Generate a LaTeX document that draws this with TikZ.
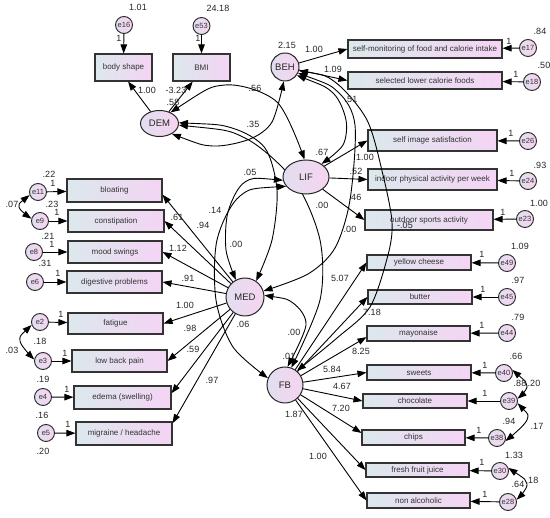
\documentclass[tikz,border=0pt]{standalone}
\usepackage{fontspec}
\setmainfont{Liberation Sans}
\usetikzlibrary{arrows.meta,shapes.geometric}
\definecolor{boxL}{RGB}{220,232,236}
\definecolor{boxR}{RGB}{244,212,244}
\definecolor{latL}{RGB}{226,222,240}
\definecolor{latR}{RGB}{246,212,240}
\pgfdeclarelayer{bg}
\pgfsetlayers{bg,main}
\begin{document}
\begin{tikzpicture}[x=1pt,y=-1pt,
  >={Triangle[length=9pt,width=6.5pt]},
  con/.style={line width=0.9pt,black},
  obs/.style={draw=black!80,line width=1.1pt,left color=boxL,right color=boxR,inner sep=0pt,font=\fontsize{8}{9}\selectfont,text=black!80},
  err/.style={circle,draw=black!85,line width=0.9pt,left color=latL,right color=latR,minimum size=17pt,inner sep=0pt,font=\fontsize{7.5}{8}\selectfont,text=black!80},
  lat/.style={draw=black!85,line width=1pt,left color=latL,right color=latR,inner sep=0pt,font=\fontsize{9.5}{10}\selectfont,text=black!85},
  lbl/.style={inner sep=0pt,font=\fontsize{9}{10}\selectfont,text=black!85},
]
\begin{pgfonlayer}{bg}\fill[white] (0,0) rectangle (550,518);\end{pgfonlayer}
\useasboundingbox (0,0) rectangle (550,518);

% observed boxes
\node[obs,minimum width=57pt,minimum height=27pt] (bodyshape) at (123.5,67.5) {body shape};
\node[obs,minimum width=57pt,minimum height=27pt] (BMI) at (201.5,67.5) {BMI};
\node[obs,minimum width=154pt,minimum height=18pt] (selfmon) at (425,49) {self-monitoring of food and calorie intake};
\node[obs,minimum width=154pt,minimum height=17pt] (sellow) at (425,80.5) {selected lower calorie foods};
\node[obs,minimum width=129pt,minimum height=21pt] (selfimg) at (432.5,140.5) {self image satisfaction};
\node[obs,minimum width=129pt,minimum height=21pt] (indoor) at (432.5,179.5) {indoor physical activity per week};
\node[obs,minimum width=128pt,minimum height=20pt] (outdoor) at (429,220) {outdoor sports activity};
\node[obs,minimum width=95pt,minimum height=23pt] (bloating) at (114.5,190.5) {bloating};
\node[obs,minimum width=96pt,minimum height=22pt] (constip) at (116,221) {constipation};
\node[obs,minimum width=94pt,minimum height=22pt] (mood) at (115,252) {mood swings};
\node[obs,minimum width=95pt,minimum height=22pt] (digest) at (114.5,282) {digestive problems};
\node[obs,minimum width=95pt,minimum height=21pt] (fatigue) at (115.5,323.5) {fatigue};
\node[obs,minimum width=95pt,minimum height=22pt] (lowback) at (119.5,361) {low back pain};
\node[obs,minimum width=97pt,minimum height=23pt] (edema) at (122.5,397.5) {edema (swelling)};
\node[obs,minimum width=96pt,minimum height=23pt] (migraine) at (124,433.5) {migraine / headache};
\node[obs,minimum width=104pt,minimum height=15pt] (ycheese) at (419,262.5) {yellow cheese};
\node[obs,minimum width=104pt,minimum height=14pt] (butter) at (420,297) {butter};
\node[obs,minimum width=103pt,minimum height=15pt] (mayo) at (418.5,333.5) {mayonaise};
\node[obs,minimum width=104pt,minimum height=15pt] (sweets) at (419,372.5) {sweets};
\node[obs,minimum width=104pt,minimum height=14pt] (choc) at (415,401) {chocolate};
\node[obs,minimum width=103pt,minimum height=15pt] (chips) at (413.5,437.5) {chips};
\node[obs,minimum width=103pt,minimum height=14pt] (juice) at (417.5,470) {fresh fruit juice};
\node[obs,minimum width=103pt,minimum height=15pt] (nonalc) at (418.5,500.5) {non alcoholic};

% error terms
\node[err] (e16) at (124,25) {e16};
\node[err] (e53) at (201.5,26) {e53};
\node[err] (e17) at (528,48) {e17};
\node[err] (e18) at (532,82) {e18};
\node[err] (e26) at (528,141) {e26};
\node[err] (e24) at (528,181) {e24};
\node[err] (e23) at (525,219) {e23};
\node[err] (e11) at (38,192) {e11};
\node[err] (e9) at (40,221) {e9};
\node[err] (e8) at (34,252) {e8};
\node[err] (e6) at (35,282) {e6};
\node[err] (e2) at (40,322) {e2};
\node[err] (e3) at (43,361) {e3};
\node[err] (e4) at (43,397) {e4};
\node[err] (e5) at (46,433) {e5};
\node[err] (e49) at (507,263) {e49};
\node[err] (e45) at (507,297) {e45};
\node[err] (e44) at (507,333) {e44};
\node[err] (e40) at (504,373) {e40};
\node[err] (e39) at (509,401) {e39};
\node[err] (e38) at (497,438) {e38};
\node[err] (e30) at (500,471) {e30};
\node[err] (e28) at (508,502) {e28};

% latent variables
\node[lat,ellipse,minimum width=38pt,minimum height=26pt] (DEM) at (159.5,123.5) {DEM};
\node[lat,circle,minimum size=28pt] (BEH) at (285,67) {BEH};
\node[lat,ellipse,minimum width=46pt,minimum height=34pt] (LIF) at (306,177) {LIF};
\node[lat,circle,minimum size=38pt] (MED) at (245,297) {MED};
\node[lat,circle,minimum size=36pt] (FB) at (285,385) {FB};

% error arrows
\foreach \e/\b in {e16/bodyshape,e53/BMI,e17/selfmon,e18/sellow,e26/selfimg,e24/indoor,e23/outdoor,
  e11/bloating,e9/constip,e8/mood,e6/digest,e2/fatigue,e3/lowback,e4/edema,e5/migraine,
  e49/ycheese,e45/butter,e44/mayo,e40/sweets,e39/choc,e38/chips,e30/juice,e28/nonalc}
  \draw[con,->] (\e) -- (\b);

% loadings
\draw[con,->] (DEM) -- (bodyshape.-72);
\draw[con,->] (DEM) -- (BMI.-122);
\draw[con,->] (BEH) -- (selfmon.west);
\draw[con,->] (BEH) -- (sellow.west);
\draw[con,->] (LIF) -- (selfimg.west);
\draw[con,->] (LIF) -- (indoor.west);
\draw[con,->] (LIF) -- (outdoor.west);
\draw[con,->] (MED) -- (bloating.-5);
\draw[con,->] (MED) -- (constip.east);
\draw[con,->] (MED) -- (mood.east);
\draw[con,->] (MED) -- (digest.east);
\draw[con,->] (MED) -- (fatigue.east);
\draw[con,->] (MED) -- (lowback.east);
\draw[con,->] (MED) -- (edema.5);
\draw[con,->] (MED) -- (migraine.12);
\draw[con,->] (FB) -- (ycheese.west);
\draw[con,->] (FB) -- (butter.west);
\draw[con,->] (FB) -- (mayo.184);
\draw[con,->] (FB) -- (sweets.west);
\draw[con,->] (FB) -- (choc.west);
\draw[con,->] (FB) -- (chips.175);
\draw[con,->] (FB) -- (juice.west);
\draw[con,->] (FB) -- (nonalc.west);

% covariances among latents
\draw[con,<->] plot[smooth] coordinates {(DEM.45) (225,85) (277,102) (LIF.95)};
\draw[con,<->] plot[smooth] coordinates {(DEM.-40) (213,146) (250,139) (272,122) (BEH.-95)};
\draw[con,<->] plot[smooth] coordinates {(DEM.2) (232,128) (265,148) (277,190) (272,240) (MED.55)};
\begin{pgfonlayer}{bg}
\draw[con,<->] plot[smooth] coordinates {(DEM.-5) (245,138) (295,182) (320,240) (320,300) (FB.70)};
\end{pgfonlayer}
\draw[con,<->] plot[smooth] coordinates {(BEH.-35) (333,93) (346,120) (343,145) (LIF.40)};
\draw[con,<->] plot[smooth] coordinates {(BEH.-25) (338,92) (355,125) (350,200) (335,248) (308,274) (MED.18)};
\draw[con,<->] plot[smooth] coordinates {(BEH.-15) (335,82) (367,120) (383,175) (392,222) (388,255) (370,307) (337,338) (FB.50)};
\draw[con,<->] plot[smooth] coordinates {(LIF.188) (245,182) (228,212) (226,250) (MED.118)};
\draw[con,<->] plot[smooth] coordinates {(LIF.205) (240,196) (217,240) (216,300) (233,347) (FB.158)};
\draw[con,<->] plot[smooth] coordinates {(MED.5) (293,303) (306,325) (FB.82)};

% covariances among errors
\draw[con,<->] plot[smooth] coordinates {(e11.200) (19,207) (e9.165)};
\draw[con,<->] plot[smooth] coordinates {(e2.200) (20,341) (e3.170)};
\draw[con,<->] plot[smooth] coordinates {(e40.20) (527,386) (e39.15)};
\draw[con,<->] plot[smooth] coordinates {(e39.-15) (527,420) (e38.-20)};
\draw[con,<->] plot[smooth] coordinates {(e30.20) (527,484) (e28.15)};

% labels
\foreach \x/\y/\t [count=\i] in {
 138/7/1.01, 218/8/24.18, 119/38/1, 198/38/1, 147/90/1.00, 176/90/-3.23, 173/102/.58,
 255/88/.56, 253/124/.35, 287/45/2.15, 314/49/1.00, 333/69/1.09, 540/31/.84, 509/41/1,
 544/65/.50, 516/74/1, 351/99/.51,
 511/133/1, 322/152/.67, 365/157/1.00, 356/171/.52, 540/165/.93, 512/173/1, 355/197/.46,
 322/205/.00, 539/203/1.00, 503/212/1, 350/229/.00, 405/225/-.05, 520/246/1.09,
 49/174/.22, 53/183/1, 12/204/.07, 52/204/.23, 57/212/1, 48/236/.21, 52/244/1, 45/263/.31,
 58/273/1, 177/217/.61, 203/225/.94, 178/248/1.12, 215/210/.14, 250/172/.05, 236/244/.00,
 188/278/.91, 185/305/1.00, 243/324/.06, 61/314/1, 190/328/.98, 40/341/.18, 12/350/.03,
 65/353/1, 193/349/.59, 43/379/.19, 212/380/.97, 67/389/1, 42/415/.16, 68/424/1, 43/451/.20,
 340/278/5.07, 294/332/.00, 289/356/.01, 372/312/7.18, 482/254/1, 518/280/.97, 483/289/1,
 518/317/.79, 482/325/1, 361/351/8.25, 516/356/.66, 485/365/1, 332/369/5.84, 342/386/4.67,
 485/393/1, 341/408/7.20, 294/414/1.87, 479/430/1, 318/456/1.00, 482/462/1, 485/494/1,
 520/383/.88, 534/383/.20, 509/421/.94, 537/426/.17, 514/455/1.33, 518/484/.64, 532/480/.18}
 \node[lbl] (L\i) at (\x,\y) {\t};
\end{tikzpicture}
\end{document}
